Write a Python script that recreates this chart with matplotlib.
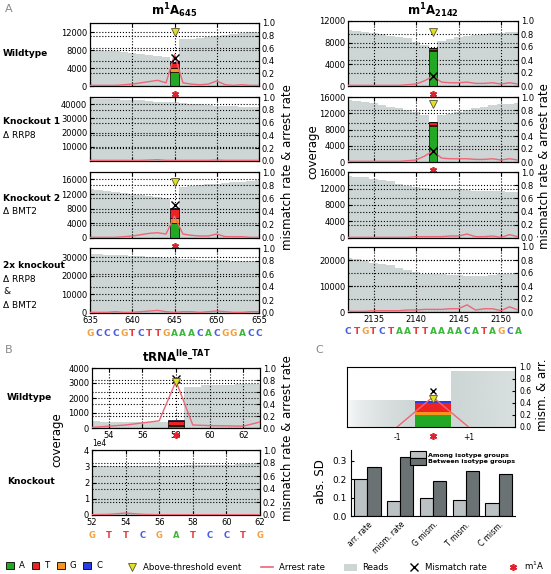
import numpy as np
import matplotlib.pyplot as plt
from matplotlib.patches import Patch
from matplotlib.lines import Line2D
from matplotlib.transforms import blended_transform_factory

plt.rcParams['font.family'] = 'DejaVu Sans'

W, H = 551, 574

GREY = '#cdd5d5'
PINK = '#ee6677'
YELLOW = '#e4e020'
STAR = '#e0202a'
NUC_COLORS = ['#22a822', '#f7941d', '#ee2222', '#2a3ce8']   # A, G, T, C from bottom up
SEQ_COLORS = {'A': '#3cb83c', 'T': '#e83838', 'G': '#f0a040', 'C': '#4a5ce0'}

# ---- panel A, m1A645 (positions 635-655) ----
pos_645 = list(range(635, 656))
seq_645 = "GCCCGTCTTGAAACACGGACC"
cov_645_wt = [8000, 7900, 7800, 7700, 7500, 7300, 7100, 6900, 6700, 6500, 5000,
              10400, 10500, 10600, 10800, 11100, 11400, 11600, 11800, 11900, 12000]
arr_645_wt = [0.01, 0.01, 0.01, 0.01, 0.02, 0.03, 0.05, 0.07, 0.09, 0.05, 0.50,
              0.05, 0.03, 0.02, 0.03, 0.08, 0.02, 0.01, 0.02, 0.01, 0.01]
cov_645_ko1 = [44000, 43900, 43700, 43500, 43200, 42900, 42600, 42200, 41800, 41500, 41200,
               40800, 40400, 40000, 39500, 39000, 38700, 38400, 38200, 38000, 37800]
arr_645_ko1 = [0.01, 0.01, 0.01, 0.01, 0.01, 0.01, 0.01, 0.015, 0.02, 0.01, 0.01,
               0.01, 0.01, 0.01, 0.01, 0.015, 0.01, 0.01, 0.01, 0.01, 0.01]
cov_645_ko2 = [13300, 13100, 12800, 12600, 12300, 12100, 11800, 11500, 11200, 10900, 7500,
               14000, 14200, 14400, 14600, 14800, 15000, 15200, 15400, 15600, 15700]
arr_645_ko2 = [0.01, 0.01, 0.01, 0.01, 0.02, 0.03, 0.05, 0.07, 0.08, 0.06, 0.33,
               0.06, 0.04, 0.03, 0.03, 0.06, 0.02, 0.02, 0.02, 0.01, 0.01]
cov_645_dko = [32000, 31800, 31500, 31200, 31000, 30800, 30500, 30200, 30000, 29800, 29500,
               29200, 29000, 28800, 28600, 28500, 28300, 28100, 28000, 27800, 27600]
arr_645_dko = [0.01, 0.01, 0.01, 0.02, 0.01, 0.01, 0.02, 0.03, 0.04, 0.02, 0.01,
               0.02, 0.02, 0.01, 0.02, 0.03, 0.02, 0.01, 0.01, 0.02, 0.02]
# site, stacked A/G/T/C fractions, mismatch rate, threshold marker
mod_645_wt = (645, [0.22, 0.06, 0.09, 0.01], 0.44, 0.85)
mod_645_ko2 = (645, [0.23, 0.07, 0.14, 0.01], 0.50, 0.85)

# ---- panel A, m1A2142 (positions 2132-2152) ----
pos_2142 = list(range(2132, 2153))
seq_2142 = "CTGTCTAATTAAAACATAGCA"
cov_2142_wt = [10300, 10200, 10000, 9800, 9600, 9300, 9100, 8900, 8200, 7600, 6500,
               8300, 8600, 9100, 9300, 9500, 9600, 9700, 9800, 9900, 10000]
arr_2142_wt = [0.01, 0.01, 0.01, 0.01, 0.01, 0.01, 0.01, 0.02, 0.03, 0.08, 0.15,
               0.06, 0.05, 0.05, 0.06, 0.04, 0.04, 0.05, 0.03, 0.05, 0.03]
cov_2142_ko1 = [15300, 15000, 14800, 14500, 14000, 13600, 13200, 12800, 12300, 11600, 9500,
                11500, 11800, 12200, 12800, 13200, 13600, 14000, 14200, 14400, 14500]
arr_2142_ko1 = [0.01, 0.01, 0.01, 0.01, 0.01, 0.01, 0.01, 0.02, 0.03, 0.09, 0.17,
                0.06, 0.05, 0.05, 0.05, 0.04, 0.04, 0.05, 0.03, 0.05, 0.03]
cov_2142_ko2 = [15100, 14900, 14700, 14400, 14100, 13700, 13000, 12500, 12300, 12100, 12000,
                12000, 12000, 12000, 11600, 11500, 11400, 11300, 11300, 11200, 11200]
arr_2142_ko2 = [0.01, 0.01, 0.01, 0.01, 0.01, 0.01, 0.01, 0.01, 0.02, 0.02, 0.02,
                0.02, 0.03, 0.03, 0.06, 0.02, 0.02, 0.03, 0.01, 0.05, 0.02]
cov_2142_dko = [20600, 20200, 19600, 19000, 18500, 18000, 17000, 16100, 15200, 14600, 14500,
                14500, 14400, 14200, 14000, 14000, 14000, 14300, 14500, 14500, 14500]
arr_2142_dko = [0.01, 0.01, 0.01, 0.02, 0.02, 0.02, 0.02, 0.03, 0.03, 0.04, 0.04,
                0.04, 0.05, 0.05, 0.11, 0.03, 0.05, 0.05, 0.02, 0.08, 0.03]
mod_2142_wt = (2142, [0.54, 0.01, 0.03, 0.01], 0.15, 0.83)
mod_2142_ko1 = (2142, [0.56, 0.01, 0.04, 0.01], 0.17, 0.90)

# ---- panel B, tRNA Ile_TAT ----
pos_trna_wt = list(range(53, 64))
cov_trna_wt = [450, 420, 400, 380, 370, 500, 2700, 2850, 2850, 2900, 2950]
arr_trna_wt = [0.01, 0.03, 0.05, 0.085, 0.12, 0.78, 0.05, 0.04, 0.035, 0.03, 0.10]
mod_trna_wt = (58, [0.03, 0.02, 0.06, 0.02], 0.81, 0.77)
pos_trna_ko = list(range(52, 63))
seq_trna = "GTTCGATCCTG"
cov_trna_ko = [30000, 30100, 30200, 30200, 30300, 30400, 30500, 30600, 30800, 31200, 31600]
arr_trna_ko = [0.005, 0.01, 0.03, 0.01, 0.005, 0.005, 0.005, 0.005, 0.005, 0.005, 0.005]

# ---- panel C ----
c_pos = [-1, 0, 1]
c_cov = [0.45, 0.0, 0.93]
c_arrest = [0.0, 0.5, 0.0]
c_bars = [0.20, 0.05, 0.15, 0.04]
c_mism = 0.60
c_thr = 0.46
sd_labels = ['arr. rate', 'mism. rate', 'G mism.', 'T mism.', 'C mism.']
sd_among = [0.20, 0.08, 0.10, 0.09, 0.07]
sd_between = [0.27, 0.32, 0.19, 0.245, 0.23]

fig = plt.figure(figsize=(W / 100, H / 100), dpi=100)

TICK = 6


def box(l, t, r, b):
    return [l / W, 1 - b / H, (r - l) / W, (b - t) / H]


def ftext(x, y, s, **kw):
    fig.text(x / W, 1 - y / H, s, **kw)


def draw_mod(ax, ax2, mod):
    site, bars, mism, thr = mod
    bottom = 0
    for h, c in zip(bars, NUC_COLORS):
        ax2.bar(site, h, bottom=bottom, width=1, color=c, edgecolor='k', lw=0.5, zorder=2)
        bottom += h
    ax2.plot(site, mism, 'x', color='k', ms=5.5, mew=1, zorder=5)
    ax2.plot(site, thr, 'v', ms=6, mfc=YELLOW, mec='#555533', mew=0.6, zorder=5)
    tr = blended_transform_factory(ax.transData, ax.transAxes)
    ax.plot([site], [-0.12], transform=tr, clip_on=False, marker=(6, 2, 0),
            ms=5, mew=1.2, color=STAR, ls='none')


def track(rect, pos, cov, arrest, ymax, yticks, mod=None, seq=None,
          labels=False, xstep=5, sci=False, seq_size=6.5):
    ax = fig.add_axes(box(*rect))
    ax.fill_between(pos, cov, step='mid', color=GREY, lw=0)
    ax.set_ylim(0, ymax)
    ax.set_yticks(yticks)
    ax.set_xticks([p for p in pos if p % xstep == 0])
    ax.grid(True, ls=':', color='k', lw=0.8)
    ax.tick_params(direction='in', labelsize=TICK, length=3, top=True, pad=2)
    if not labels:
        ax.tick_params(labelbottom=False)
    if sci:
        ax.ticklabel_format(axis='y', style='sci', scilimits=(0, 0))
        ax.yaxis.get_offset_text().set_fontsize(5.5)
    ax2 = ax.twinx()
    ax2.set_ylim(0, 1)
    ax2.set_yticks(np.arange(0, 1.01, 0.2))
    ax2.grid(True, axis='y', ls=':', color='k', lw=0.8)
    ax2.tick_params(direction='in', labelsize=TICK, length=3, pad=2)
    if mod is not None:
        draw_mod(ax, ax2, mod)
    ax2.plot(pos, arrest, color=PINK, lw=1, zorder=4)
    if seq is not None:
        for p, ch in zip(pos, seq):
            ax.annotate(ch, xy=(p, 0), xycoords=('data', 'axes fraction'),
                        xytext=(0, -20), textcoords='offset pixels',
                        ha='center', va='center', color=SEQ_COLORS[ch],
                        fontsize=seq_size, fontweight='bold')
    ax.set_xlim(pos[0], pos[-1])
    return ax


# panel A, left column
track((90, 23, 259, 86), pos_645, cov_645_wt, arr_645_wt, 14000, [0, 4000, 8000, 12000], mod_645_wt)
track((90, 97, 259, 161), pos_645, cov_645_ko1, arr_645_ko1, 45000, [10000, 20000, 30000, 40000])
track((90, 172, 259, 238), pos_645, cov_645_ko2, arr_645_ko2, 18000,
      [0, 4000, 8000, 12000, 16000], mod_645_ko2)
track((90, 248, 259, 313), pos_645, cov_645_dko, arr_645_dko, 35000,
      [0, 10000, 20000, 30000], seq=seq_645, labels=True)

# panel A, right column
track((348, 21, 518, 86), pos_2142, cov_2142_wt, arr_2142_wt, 12000,
      [0, 4000, 8000, 12000], mod_2142_wt)
track((348, 97, 518, 162), pos_2142, cov_2142_ko1, arr_2142_ko1, 16000,
      [0, 4000, 8000, 12000, 16000], mod_2142_ko1)
track((348, 172, 518, 238), pos_2142, cov_2142_ko2, arr_2142_ko2, 16000,
      [0, 4000, 8000, 12000, 16000])
track((348, 247, 518, 312), pos_2142, cov_2142_dko, arr_2142_dko, 25000,
      [0, 10000, 20000], seq=seq_2142, labels=True)

# panel B
track((92, 368, 260, 428), pos_trna_wt, cov_trna_wt, arr_trna_wt, 4000,
      [0, 1000, 2000, 3000, 4000], mod_trna_wt, labels=True, xstep=2)
track((92, 450, 260, 515), pos_trna_ko, cov_trna_ko, arr_trna_ko, 40000,
      [0, 10000, 20000, 30000, 40000], seq=seq_trna, labels=True, xstep=2, sci=True,
      seq_size=6)

# panel C, schematic
axc = fig.add_axes(box(347, 367, 515, 427))
xl = (-2.4, 2.3)
grey_rgb = np.array([0xcd, 0xd5, 0xd5]) / 255
ramp = np.zeros((1, 200, 4))
ramp[..., :3] = grey_rgb
ramp[..., 3] = np.linspace(0, 1, 200) ** 0.5
axc.imshow(ramp, extent=(xl[0], c_pos[1] - 0.5, 0, c_cov[0]), aspect='auto', zorder=0)
ramp_r = ramp.copy()
ramp_r[..., 3] = np.linspace(1, 0.75, 200)
axc.imshow(ramp_r, extent=(c_pos[1] + 0.5, xl[1], 0, c_cov[2]), aspect='auto', zorder=0)
bottom = 0
for h, c in zip(c_bars, NUC_COLORS):
    axc.bar(c_pos[1], h, bottom=bottom, width=1, color=c, lw=0, zorder=2)
    bottom += h
axc.plot(c_pos, c_arrest, color=PINK, lw=1, zorder=3)
axc.plot(c_pos[1], c_mism, 'x', color='k', ms=5, mew=1, zorder=5)
axc.plot(c_pos[1], c_thr, 'v', ms=5.5, mfc=YELLOW, mec='#555533', mew=0.6, zorder=5)
trc = blended_transform_factory(axc.transData, axc.transAxes)
axc.plot([c_pos[1]], [-0.15], transform=trc, clip_on=False, marker=(6, 2, 0),
         ms=5, mew=1.2, color=STAR, ls='none')
axc.set_xlim(*xl)
axc.set_ylim(0, 1)
axc.set_xticks([-1, 1])
axc.set_xticklabels(['-1', '+1'])
axc.yaxis.tick_right()
axc.set_yticks(np.arange(0, 1.01, 0.2))
axc.tick_params(labelsize=5.5, length=0, pad=4)
axc.tick_params(axis='y', length=2, direction='in', pad=3)

# panel C, bar chart
axs = fig.add_axes(box(351, 450, 515, 516))
xs = np.arange(len(sd_labels))
axs.bar(xs - 0.2, sd_among, 0.4, color='#bcc2c4', edgecolor='k', lw=0.8,
        label='Among isotype groups')
axs.bar(xs + 0.2, sd_between, 0.4, color='#6b7274', edgecolor='k', lw=0.8,
        label='Between isotype groups')
axs.set_xlim(-0.5, 4.5)
axs.set_ylim(0, 0.36)
axs.set_yticks([0, 0.1, 0.2, 0.3])
axs.set_xticks(xs)
axs.set_xticklabels(sd_labels, rotation=45, ha='right', rotation_mode='anchor')
axs.tick_params(labelsize=5.5, direction='in', length=0, pad=3)
axs.tick_params(axis='y', labelsize=6.5, length=2)
axs.spines['top'].set_visible(False)
axs.spines['right'].set_visible(False)
axs.legend(loc='upper right', bbox_to_anchor=(1.03, 1.05), frameon=False,
           prop={'weight': 'bold', 'size': 4.6}, handlelength=2.4, handleheight=1.2,
           labelspacing=0.05, handletextpad=0.4, borderpad=0.2)

# labels
ftext(5, 9, 'A', fontsize=8, color='#888888', va='center')
ftext(5, 350, 'B', fontsize=8, color='#888888', va='center')
ftext(315, 350, 'C', fontsize=8, color='#888888', va='center')
ftext(174, 11, r'$\mathbf{m^1A_{645}}$', fontsize=8.5, ha='center', va='center')
ftext(433, 11, r'$\mathbf{m^1A_{2142}}$', fontsize=8.5, ha='center', va='center')
ftext(176, 357, r'$\mathbf{tRNA^{Ile\_TAT}}$', fontsize=8.5, ha='center', va='center')

row_kw = dict(fontsize=6.5, ha='left', va='center')
ftext(3, 54, 'Wildtype', fontweight='bold', **row_kw)
ftext(3, 122, 'Knockout 1', fontweight='bold', **row_kw)
ftext(3, 135, 'Δ RRP8', **row_kw)
ftext(3, 198, 'Knockout 2', fontweight='bold', **row_kw)
ftext(3, 211, 'Δ BMT2', **row_kw)
ftext(3, 266, '2x knockout', fontweight='bold', **row_kw)
ftext(3, 279, 'Δ RRP8', **row_kw)
ftext(3, 292, '&', **row_kw)
ftext(3, 305, 'Δ BMT2', **row_kw)
ftext(7, 397, 'Wildtype', fontweight='bold', **row_kw)
ftext(7, 482, 'Knockout', fontweight='bold', **row_kw)

ylab_kw = dict(fontsize=8.5, rotation=90, ha='center', va='center')
ftext(287, 167, 'mismatch rate & arrest rate', **ylab_kw)
ftext(313, 152, 'coverage', **ylab_kw)
ftext(545, 166, 'mismatch rate & arrest rate', **ylab_kw)
ftext(57, 440, 'coverage', **ylab_kw)
ftext(287, 438, 'mismatch rate & arrest rate', **ylab_kw)
ftext(543, 395, 'mism. & arr.', **ylab_kw)
ftext(320, 482, 'abs. SD', **ylab_kw)

# bottom legend
nuc_handles = [Patch(facecolor=c, edgecolor='k', lw=0.6) for c in
               [NUC_COLORS[0], NUC_COLORS[2], NUC_COLORS[1], NUC_COLORS[3]]]
fig.legend(nuc_handles, ['A', 'T', 'G', 'C'], ncol=4, loc='center left',
           bbox_to_anchor=(0, 1 - 566 / H), frameon=False, fontsize=6.2,
           handlelength=0.9, handleheight=0.9, handletextpad=0.6,
           columnspacing=0.8, borderpad=0.2)
other_handles = [
    Line2D([], [], marker='v', ls='none', ms=6, mfc=YELLOW, mec='#555533', mew=0.6),
    Line2D([], [], color=PINK, lw=1.2),
    Patch(facecolor=GREY, edgecolor='none'),
    Line2D([], [], marker='x', ls='none', color='k', ms=5.5, mew=1),
    Line2D([], [], marker=(6, 2, 0), ls='none', color=STAR, ms=5, mew=1.2),
]
fig.legend(other_handles, ['Above-threshold event', 'Arrest rate', 'Reads',
                           'Mismatch rate', r'm$^1$A'],
           ncol=5, loc='center left', bbox_to_anchor=(120 / W, 1 - 566 / H),
           frameon=False, fontsize=6.2, handlelength=1.4, handleheight=0.9,
           handletextpad=0.6, columnspacing=2.3, borderpad=0.2)

fig.savefig('out.png', dpi=100)
